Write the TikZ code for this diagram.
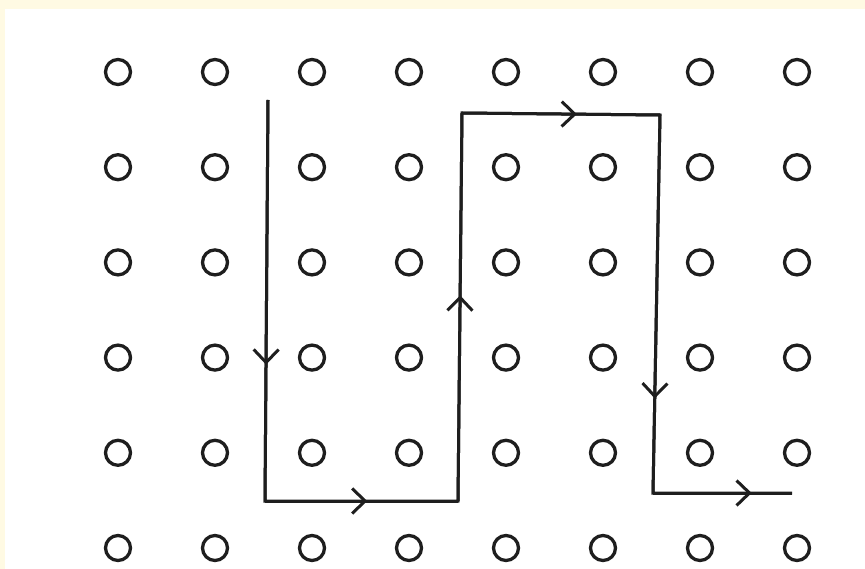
\documentclass[tikz,border=0pt]{standalone}
\usetikzlibrary{arrows.meta,decorations.markings}
\definecolor{cream}{HTML}{FFFAE3}
\definecolor{ink}{HTML}{1E1E1E}
\tikzset{
  dot/.style={circle,draw=ink,line width=3.3pt,minimum size=25pt,inner sep=0pt},
  pathline/.style={draw=ink,line width=3pt,line join=miter},
}
\newcommand{\seg}[3]{\draw[pathline,postaction={decorate},
  decoration={markings,mark=at position #3 with {\arrow[ink]{Straight Barb[length=13pt,width=25pt,line width=3pt]}}}] (#1) -- (#2);}
\begin{document}
\begin{tikzpicture}[x=1pt,y=-1pt]
\fill[cream] (0,0) rectangle (865,569);
\fill[white] (5,9) rectangle (865,569);
\useasboundingbox (0,0) rectangle (865,569);
\foreach \i in {0,...,7}{
  \foreach \j in {0,...,5}{
    \node[dot] (c-\i-\j) at ({118+97*\i},{72+95.2*\j}) {};
  }
}
\coordinate (p0) at (268,100);
\coordinate (p1) at (265,501);
\coordinate (p2) at (458,501);
\coordinate (p3) at (462,113);
\coordinate (p4) at (660,115);
\coordinate (p5) at (653,493);
\coordinate (p6) at (792,493);
\draw[pathline] (p0) -- (p1) -- (p2) -- (p3) -- (p4) -- (p5) -- (p6);
\seg{p0}{p1}{0.66}
\seg{p1}{p2}{0.53}
\seg{p2}{p3}{0.53}
\seg{p3}{p4}{0.58}
\seg{p4}{p5}{0.75}
\seg{p5}{p6}{0.71}
\end{tikzpicture}
\end{document}
